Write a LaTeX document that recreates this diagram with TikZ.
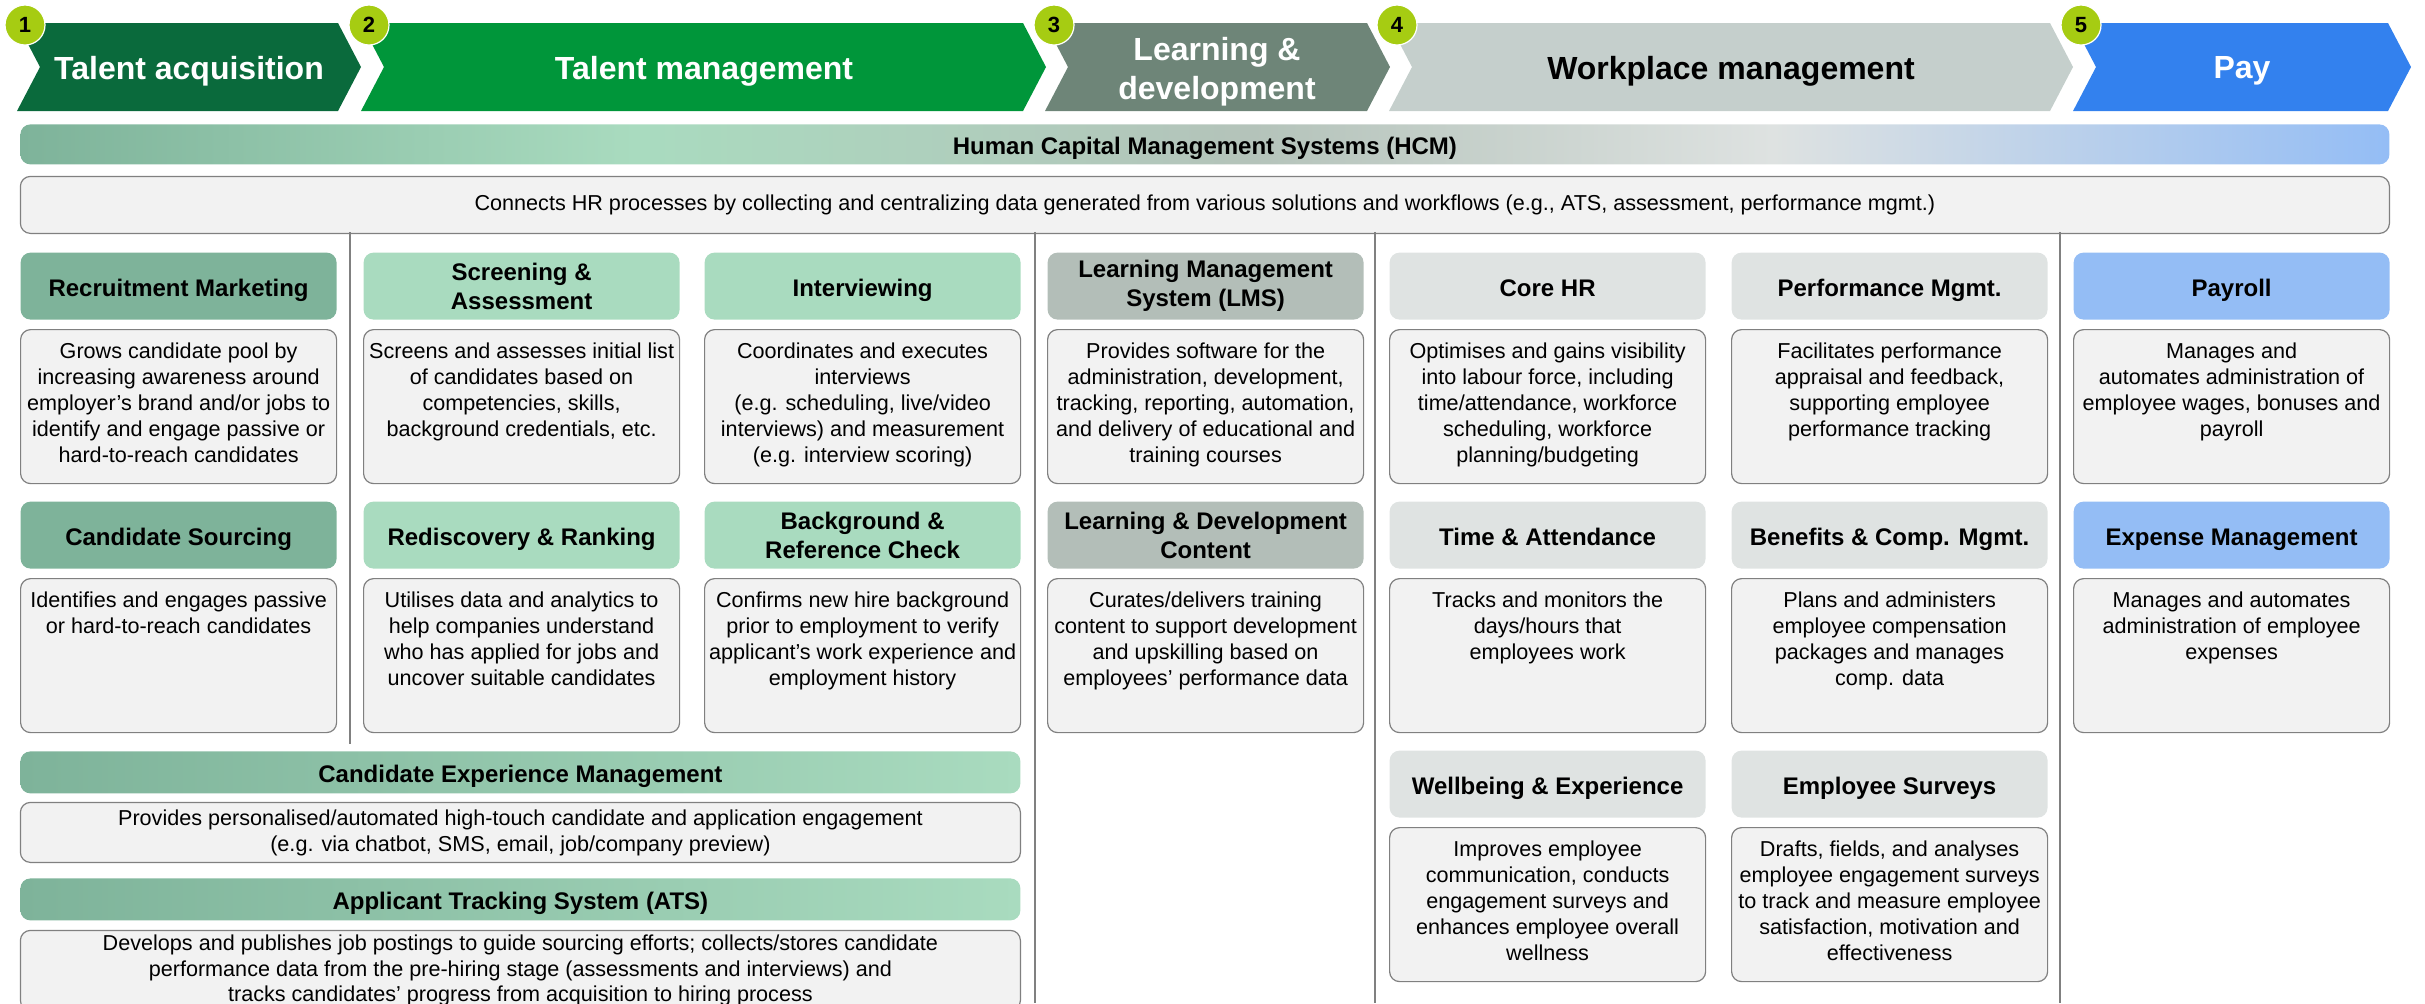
\documentclass[tikz,border=0pt]{standalone}
\usepackage{fontspec}
\setmainfont{Liberation Sans}
\usetikzlibrary{positioning}

\definecolor{acqgreen}{HTML}{0A6A3C}
\definecolor{tmgreen}{HTML}{00963A}
\definecolor{ldgrey}{HTML}{6E8578}
\definecolor{wmgrey}{HTML}{C5CFCC}
\definecolor{payblue}{HTML}{3381EE}
\definecolor{numlime}{HTML}{A6CC12}
\definecolor{headA}{HTML}{7EB39A}
\definecolor{headB}{HTML}{A9DBBF}
\definecolor{headL}{HTML}{B3BEB8}
\definecolor{headW}{HTML}{DFE3E2}
\definecolor{headP}{HTML}{94BDF5}
\definecolor{boxfill}{HTML}{F2F2F2}
\definecolor{boxline}{HTML}{808080}
\definecolor{hcmgrey}{HTML}{B4C3BA}
\definecolor{hcmlight}{HTML}{DEE2E1}

% green -> mint -> grey -> blue, stretched over the HCM bar
\pgfdeclarehorizontalshading{hcmshade}{100bp}{color(0bp)=(headA); color(25bp)=(headA); color(38bp)=(headB); color(51bp)=(hcmgrey); color(62bp)=(hcmlight); color(75bp)=(headP); color(100bp)=(headP)}

\tikzset{
  phase/.style={font=\fontsize{16}{19.5}\selectfont\bfseries,text=white,align=center},
  num/.style={circle,fill=numlime,draw=white,line width=0.6pt,minimum size=20pt,inner sep=0pt,font=\fontsize{11}{13}\selectfont\bfseries},
  head2/.style={rounded corners=5pt,minimum width=158pt,minimum height=33.5pt,inner sep=1pt,align=center,font=\fontsize{12}{14.5}\selectfont\bfseries},
  head/.style={head2,text height=10pt,text depth=0pt},
  desc/.style={anchor=north west,draw=boxline,line width=0.6pt,fill=boxfill,rounded corners=5pt,minimum width=158pt,minimum height=77pt,inner sep=0pt,align=center},
  dtext/.style={inner sep=0pt,align=center,font=\fontsize{10.8}{13}\selectfont},
  wide/.style={anchor=north west,rounded corners=5pt,minimum width=500pt,minimum height=21pt,inner sep=0pt,text height=10pt,text depth=0pt,font=\fontsize{12}{14.5}\selectfont\bfseries},
  sep/.style={draw=boxline,line width=0.6pt}
}

\begin{document}
\begin{tikzpicture}[x=0.5pt,y=-0.5pt]
\useasboundingbox (0,0) rectangle (2425,1003);
\clip (0,0) rectangle (2425,1003);

% phases
\fill[acqgreen] (17,23) -- (338,23) -- (361,67) -- (338,111) -- (17,111) -- (40,67) -- cycle;
\fill[tmgreen] (361,23) -- (1023,23) -- (1046,67) -- (1023,111) -- (361,111) -- (384,67) -- cycle;
\fill[ldgrey] (1045,23) -- (1367,23) -- (1390,67) -- (1367,111) -- (1045,111) -- (1068,67) -- cycle;
\fill[wmgrey] (1389,23) -- (2050,23) -- (2073,67) -- (2050,111) -- (1389,111) -- (1412,67) -- cycle;
\fill[payblue] (2073,23) -- (2388,23) -- (2411,67) -- (2388,111) -- (2073,111) -- (2096,67) -- cycle;
\node[phase] (ta) at (189,71) {Talent acquisition};
\node[phase] (tm) at (704,71) {Talent management};
\node[phase] (ld) at (1217,72) {Learning \&\\development};
\node[phase,text=black] (wm) at (1731,71) {Workplace management};
\node[phase] (pay) at (2242,71) {Pay};
\node[num] (n1) at (25,25) {1};
\node[num] (n2) at (369,25) {2};
\node[num] (n3) at (1054,25) {3};
\node[num] (n4) at (1397,25) {4};
\node[num] (n5) at (2081,25) {5};

% HCM bar
\node[wide,shade,shading=hcmshade,minimum width=1184.5pt,minimum height=20pt] (hcm) at (20,124) {Human Capital Management Systems (HCM)};
\node[desc,below=5.5pt of hcm,minimum width=1184.5pt,minimum height=28.5pt,font=\fontsize{10.8}{13}\selectfont] (hcm-d) {Connects HR processes by collecting and centralizing data generated from various solutions and workflows (e.g., ATS, assessment, performance mgmt.)};

\draw[sep] (350,232) -- (350,744);
\draw[sep] (1035,232) -- (1035,1003);
\draw[sep] (1375,232) -- (1375,1003);
\draw[sep] (2060,232) -- (2060,1003);

% talent acquisition
\node[desc] (rm-d) at (20,329) {};
\node[head,fill=headA,above=4.5pt of rm-d] (rm) {Recruitment Marketing};
\node[dtext,below=6.5pt of rm-d.north] (rm-t) {Grows candidate pool by\\increasing awareness around\\employer’s brand and/or jobs to\\identify and engage passive or\\hard-to-reach candidates};
\node[desc] (cs-d) at (20,578) {};
\node[head,fill=headA,above=4.5pt of cs-d] (cs) {Candidate Sourcing};
\node[dtext,below=6.5pt of cs-d.north] (cs-t) {Identifies and engages passive\\or hard-to-reach candidates};

% talent management
\node[desc] (sa-d) at (363,329) {};
\node[head2,fill=headB,above=4.5pt of sa-d] (sa) {Screening \&\\Assessment};
\node[dtext,below=6.5pt of sa-d.north] (sa-t) {Screens and assesses initial list\\of candidates based on\\competencies, skills,\\background credentials, etc.};
\node[desc] (rr-d) at (363,578) {};
\node[head,fill=headB,above=4.5pt of rr-d] (rr) {Rediscovery \& Ranking};
\node[dtext,below=6.5pt of rr-d.north] (rr-t) {Utilises data and analytics to\\help companies understand\\who has applied for jobs and\\uncover suitable candidates};
\node[desc] (iv-d) at (704,329) {};
\node[head,fill=headB,above=4.5pt of iv-d] (iv) {Interviewing};
\node[dtext,below=6.5pt of iv-d.north] (iv-t) {Coordinates and executes\\interviews\\(e.g. scheduling, live/video\\interviews) and measurement\\(e.g. interview scoring)};
\node[desc] (bg-d) at (704,578) {};
\node[head2,fill=headB,above=4.5pt of bg-d] (bg) {Background \&\\Reference Check};
\node[dtext,below=6.5pt of bg-d.north] (bg-t) {Confirms new hire background\\prior to employment to verify\\applicant’s work experience and\\employment history};

% candidate experience and ATS
\node[wide,left color=headA,right color=headB] (cem) at (20,751) {Candidate Experience Management};
\node[desc,below=4pt of cem,minimum width=500pt,minimum height=30pt,font=\fontsize{10.8}{13}\selectfont] (cem-d) {Provides personalised/automated high-touch candidate and application engagement\\(e.g. via chatbot, SMS, email, job/company preview)};
\node[wide,below=7.5pt of cem-d,left color=headA,right color=headB] (ats) {Applicant Tracking System (ATS)};
\node[desc,below=4.5pt of ats,minimum width=500pt,minimum height=40pt,font=\fontsize{10.8}{12.8}\selectfont] (ats-d) {Develops and publishes job postings to guide sourcing efforts; collects/stores candidate\\performance data from the pre-hiring stage (assessments and interviews) and\\tracks candidates’ progress from acquisition to hiring process};

% learning and development
\node[desc] (lms-d) at (1047,329) {};
\node[head2,fill=headL,above=4.5pt of lms-d] (lms) {Learning Management\\System (LMS)};
\node[dtext,below=6.5pt of lms-d.north] (lms-t) {Provides software for the\\administration, development,\\tracking, reporting, automation,\\and delivery of educational and\\training courses};
\node[desc] (ldc-d) at (1047,578) {};
\node[head2,fill=headL,above=4.5pt of ldc-d] (ldc) {Learning \& Development\\Content};
\node[dtext,below=6.5pt of ldc-d.north] (ldc-t) {Curates/delivers training\\content to support development\\and upskilling based on\\employees’ performance data};

% workplace management
\node[desc] (hr-d) at (1389,329) {};
\node[head,fill=headW,above=4.5pt of hr-d] (hr) {Core HR};
\node[dtext,below=6.5pt of hr-d.north] (hr-t) {Optimises and gains visibility\\into labour force, including\\time/attendance, workforce\\scheduling, workforce\\planning/budgeting};
\node[desc] (att-d) at (1389,578) {};
\node[head,fill=headW,above=4.5pt of att-d] (att) {Time \& Attendance};
\node[dtext,below=6.5pt of att-d.north] (att-t) {Tracks and monitors the\\days/hours that\\employees work};
\node[desc] (wb-d) at (1389,827) {};
\node[head,fill=headW,above=4.5pt of wb-d] (wb) {Wellbeing \& Experience};
\node[dtext,below=6.5pt of wb-d.north] (wb-t) {Improves employee\\communication, conducts\\engagement surveys and\\enhances employee overall\\wellness};
\node[desc] (pm-d) at (1731,329) {};
\node[head,fill=headW,above=4.5pt of pm-d] (pm) {Performance Mgmt.};
\node[dtext,below=6.5pt of pm-d.north] (pm-t) {Facilitates performance\\appraisal and feedback,\\supporting employee\\performance tracking};
\node[desc] (ben-d) at (1731,578) {};
\node[head,fill=headW,above=4.5pt of ben-d] (ben) {Benefits \& Comp. Mgmt.};
\node[dtext,below=6.5pt of ben-d.north] (ben-t) {Plans and administers\\employee compensation\\packages and manages\\comp. data};
\node[desc] (es-d) at (1731,827) {};
\node[head,fill=headW,above=4.5pt of es-d] (es) {Employee Surveys};
\node[dtext,below=6.5pt of es-d.north] (es-t) {Drafts, fields, and analyses\\employee engagement surveys\\to track and measure employee\\satisfaction, motivation and\\effectiveness};

% pay
\node[desc] (pr-d) at (2073,329) {};
\node[head,fill=headP,above=4.5pt of pr-d] (pr) {Payroll};
\node[dtext,below=6.5pt of pr-d.north] (pr-t) {Manages and\\automates administration of\\employee wages, bonuses and\\payroll};
\node[desc] (ex-d) at (2073,578) {};
\node[head,fill=headP,above=4.5pt of ex-d] (ex) {Expense Management};
\node[dtext,below=6.5pt of ex-d.north] (ex-t) {Manages and automates\\administration of employee\\expenses};
\end{tikzpicture}
\end{document}
